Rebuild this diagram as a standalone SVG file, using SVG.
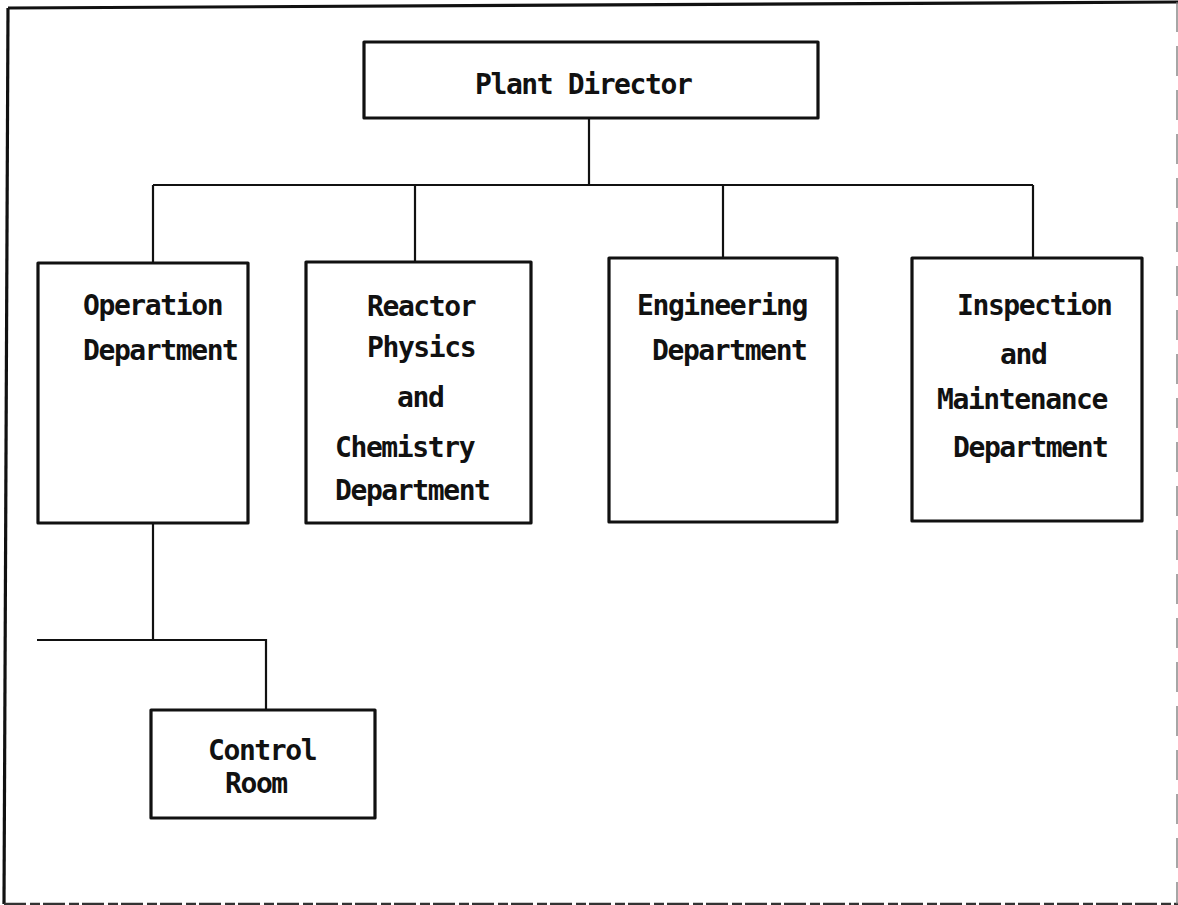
<svg xmlns="http://www.w3.org/2000/svg" width="1178" height="905" viewBox="0 0 1178 905">
  <style>
    .box { fill: #fff; stroke: #111; stroke-width: 3.2; stroke-linejoin: round; }
    .wire { fill: none; stroke: #111; stroke-width: 2.2; }
    .lbl { font-family: "DejaVu Sans Mono", "Liberation Mono", monospace; font-size: 28px; font-weight: bold; letter-spacing: -1.4px; fill: #111; }
    .frame { fill: none; stroke: #111; stroke-width: 3.2; }
  </style>
  <rect x="0" y="0" width="1178" height="905" fill="#fff"/>

  <!-- page frame -->
  <g id="frame">
    <path class="frame" d="M8,8 L1178,2"/>
    <path class="frame" d="M8,8 L4,904"/>
    <path d="M4,904 L1178,904" fill="none" stroke="#333" stroke-width="2.5" stroke-dasharray="22 4 10 3"/>
    <path d="M1177,2 L1177,904" fill="none" stroke="#777" stroke-width="1.3" stroke-dasharray="30 14"/>
  </g>

  <!-- reporting lines -->
  <g id="connectors">
    <path class="wire" d="M589,118 V185"/>
    <path class="wire" d="M153,185 H1033"/>
    <path class="wire" d="M153,185 V263"/>
    <path class="wire" d="M415,185 V262"/>
    <path class="wire" d="M723,185 V258"/>
    <path class="wire" d="M1033,185 V258"/>
    <path class="wire" d="M153,523 V640"/>
    <path class="wire" d="M37,640 H266 V710"/>
  </g>

  <g id="plant-director">
    <rect class="box" x="364" y="42" width="454" height="76"/>
    <text class="lbl" x="475" y="94">Plant Director</text>
  </g>

  <g id="operation-department">
    <rect class="box" x="38" y="263" width="210" height="260"/>
    <text class="lbl" x="83" y="315">Operation</text>
    <text class="lbl" x="83" y="360">Department</text>
  </g>

  <g id="reactor-physics-chemistry">
    <rect class="box" x="306" y="262" width="225" height="261"/>
    <text class="lbl" x="367" y="316">Reactor</text>
    <text class="lbl" x="367" y="357">Physics</text>
    <text class="lbl" x="397" y="407">and</text>
    <text class="lbl" x="335" y="457">Chemistry</text>
    <text class="lbl" x="335" y="500">Department</text>
  </g>

  <g id="engineering-department">
    <rect class="box" x="609" y="258" width="228" height="264"/>
    <text class="lbl" x="637" y="315">Engineering</text>
    <text class="lbl" x="652" y="360">Department</text>
  </g>

  <g id="inspection-maintenance">
    <rect class="box" x="912" y="258" width="230" height="263"/>
    <text class="lbl" x="957" y="315">Inspection</text>
    <text class="lbl" x="1000" y="364">and</text>
    <text class="lbl" x="937" y="409">Maintenance</text>
    <text class="lbl" x="953" y="457">Department</text>
  </g>

  <g id="control-room">
    <rect class="box" x="151" y="710" width="224" height="108"/>
    <text class="lbl" x="208" y="760">Control</text>
    <text class="lbl" x="225" y="793">Room</text>
  </g>
</svg>
